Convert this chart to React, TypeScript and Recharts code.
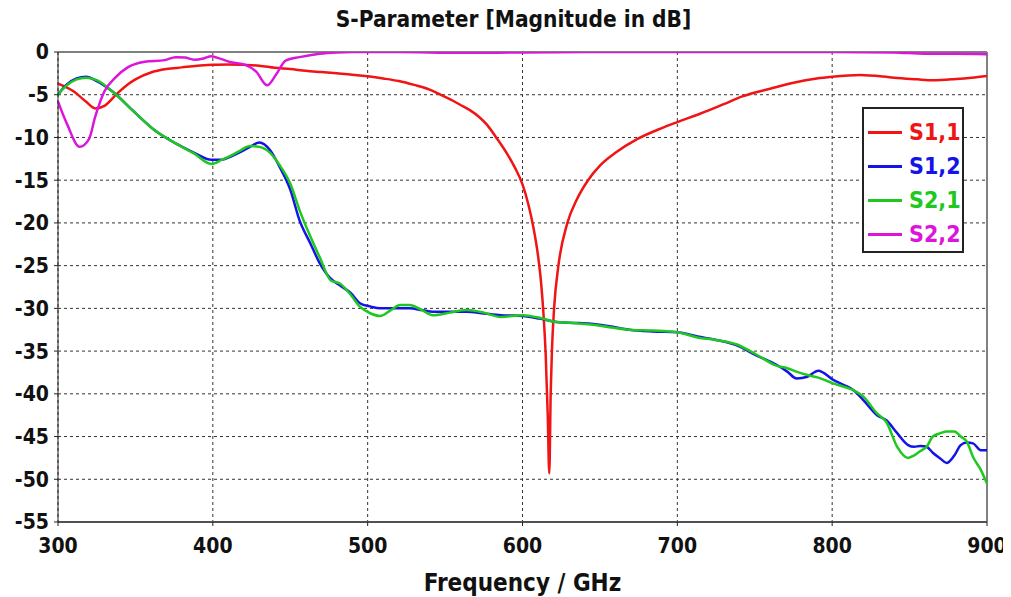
import {
  LineChart, Line, XAxis, YAxis, CartesianGrid, ReferenceLine,
} from 'recharts';

// S1,1 (reflection, port 1)
const s11Freq = [300, 310, 318, 324, 330, 338, 345, 350, 360, 370, 380, 390, 400, 410, 420, 430, 440, 450, 460, 470, 480, 490, 500, 510, 520, 530, 540, 547, 554, 560, 566, 572, 577, 583, 590, 595, 600, 604, 607, 610, 612, 613.5, 615, 616.3, 617.3, 618.2, 619, 620.4, 623.2, 629, 635, 642, 650, 660, 674, 690, 700, 715, 730, 742, 760, 775, 790, 800, 818, 840, 855, 865, 880, 890, 900];
const s11 = [-3.7, -4.6, -5.8, -6.6, -6.3, -4.9, -3.8, -3.2, -2.4, -2.0, -1.8, -1.6, -1.5, -1.45, -1.5, -1.6, -1.85, -2.0, -2.2, -2.35, -2.5, -2.65, -2.85, -3.1, -3.4, -3.85, -4.4, -5.0, -5.6, -6.2, -6.8, -7.6, -8.5, -10, -11.9, -13.5, -15.5, -18.0, -20.5, -23.8, -27, -30.5, -35.5, -42.5, -49.3, -40, -35, -30, -25, -20, -17.3, -15.1, -13.3, -11.8, -10.2, -8.9, -8.2, -7.2, -6.1, -5.2, -4.3, -3.6, -3.1, -2.9, -2.7, -3.0, -3.2, -3.3, -3.15, -3.0, -2.8];

// S2,2 (reflection, port 2)
const s22Freq = [300, 306, 314, 320, 324, 330, 337, 345, 356, 369, 376, 382, 388, 394, 399, 405, 412, 421, 428, 435, 441, 447, 456, 469, 480, 490, 520, 560, 600, 650, 700, 750, 800, 840, 860, 880, 900];
const s22 = [-5.8, -8.5, -11.1, -10.2, -7.6, -4.6, -3.0, -1.8, -1.15, -0.95, -0.6, -0.65, -0.9, -0.75, -0.5, -0.8, -1.2, -1.5, -2.3, -3.9, -2.6, -1.0, -0.6, -0.2, -0.05, 0, 0, -0.1, -0.05, 0, 0, 0, 0, -0.05, -0.2, -0.2, -0.25];

// transmission S1,2 / S2,1
const transFreq = [300, 305, 312, 318, 325, 335, 348, 362, 376, 388, 399, 406, 412, 418, 424, 430, 437, 443, 450, 456, 463, 469, 476, 482, 489, 495, 502, 508, 515, 521, 527, 535, 542, 553, 564, 575, 586, 600, 611, 622, 633, 644, 656, 669, 684, 700, 713, 725, 738, 751, 764, 771, 777, 784, 791, 801, 808, 814, 820, 829, 835, 842, 849, 853, 857, 861, 865, 870, 874, 879, 883, 887, 891, 896, 900];
const s12 = [-5.0, -3.9, -3.1, -2.9, -3.4, -4.6, -6.8, -9.1, -10.7, -11.8, -12.6, -12.6, -12.2, -11.7, -11.1, -10.6, -11.5, -13.4, -16.1, -19.7, -22.4, -24.7, -26.5, -27.3, -28.2, -29.4, -29.8, -30.0, -30.0, -30.0, -30.0, -30.2, -30.4, -30.4, -30.4, -30.6, -30.8, -30.9, -31.2, -31.6, -31.7, -31.8, -32.1, -32.5, -32.7, -32.8, -33.3, -33.7, -34.3, -35.5, -36.6, -37.4, -38.2, -38.0, -37.3, -38.4, -39.0, -39.6, -40.7, -42.5, -43.1, -44.6, -46.0, -46.2, -46.1, -46.2, -46.9, -47.6, -48.1, -47.2, -46.0, -45.7, -45.8, -46.6, -46.6];
const s21 = [-5.0, -4.0, -3.2, -3.0, -3.3, -4.6, -6.8, -9.1, -10.7, -11.9, -13.1, -12.6, -12.1, -11.5, -11.0, -11.1, -11.8, -13.2, -15.4, -18.5, -21.6, -24.0, -26.7, -27.1, -28.4, -29.8, -30.6, -30.9, -30.2, -29.6, -29.6, -30.2, -30.8, -30.5, -30.2, -30.5, -31.0, -30.8, -31.1, -31.6, -31.7, -31.9, -32.2, -32.5, -32.6, -32.8, -33.4, -33.7, -34.2, -35.4, -36.7, -37.0, -37.4, -37.8, -38.1, -38.8, -39.2, -39.6, -40.3, -42.3, -43.3, -46.2, -47.5, -47.2, -46.7, -46.2, -45.0, -44.6, -44.4, -44.4, -45.0, -45.6, -47.4, -48.9, -50.5];

const xTicks = [300, 400, 500, 600, 700, 800, 900];
const yTicks = [0, -5, -10, -15, -20, -25, -30, -35, -40, -45, -50, -55];

const toRows = (freq: number[], vals: number[]) => freq.map((f, i) => ({ f, v: vals[i] }));

const series = [
  { name: 'S1,1', color: '#f01414', data: toRows(s11Freq, s11) },
  { name: 'S1,2', color: '#1414e6', data: toRows(transFreq, s12) },
  { name: 'S2,1', color: '#1ec81e', data: toRows(transFreq, s21) },
  { name: 'S2,2', color: '#dc14dc', data: toRows(s22Freq, s22) },
];

const font = '"DejaVu Sans Condensed", "DejaVu Sans", sans-serif';
const tick = { fontSize: 21, fontWeight: 700, fill: '#111', fontFamily: font };

function LegendBox() {
  return (
    <div style={{
      position: 'absolute', left: 854, top: 99, width: 102, height: 146,
      border: '2px solid #222', background: '#fff', padding: '6px 0', boxSizing: 'border-box',
    }}>
      {series.map((s) => (
        <div key={s.name} style={{ display: 'flex', alignItems: 'center', height: 34, paddingLeft: 4 }}>
          <span style={{ display: 'inline-block', width: 34, height: 3, background: s.color, marginRight: 7 }} />
          <span style={{ color: s.color, fontFamily: font, fontWeight: 700, fontSize: 23 }}>{s.name}</span>
        </div>
      ))}
    </div>
  );
}

export default function App() {
  return (
    <div style={{ position: 'relative', width: 1003, height: 589, background: '#fff' }}>
      <div style={{ position: 'absolute', top: -2, left: 8, width: 995, textAlign: 'center', fontFamily: font, fontWeight: 700, fontSize: 22.5, color: '#111' }}>
        S-Parameter [Magnitude in dB]
      </div>
      <LineChart width={1003} height={589} margin={{ top: 44, right: 24, bottom: 4, left: 0 }}>
        <CartesianGrid stroke="#333" strokeDasharray="3 3" />
        <XAxis
          type="number" dataKey="f" domain={[300, 900]} ticks={xTicks} allowDuplicatedCategory={false}
          tick={tick} tickSize={4} tickMargin={12} stroke="#222" height={71}
          label={{ value: 'Frequency / GHz', position: 'insideBottom', offset: 2, style: { fontSize: 24, fontWeight: 700, fill: '#111', fontFamily: font } }}
        />
        <YAxis
          type="number" domain={[-55, 0]} ticks={yTicks} allowDataOverflow
          tick={tick} tickSize={4} tickMargin={5} stroke="#222" width={50}
        />
        <ReferenceLine y={0} stroke="#808080" strokeWidth={2} />
        <ReferenceLine y={-55} stroke="#808080" strokeWidth={2} />
        <ReferenceLine x={900} stroke="#808080" strokeWidth={2} />
        {series.map((s) => (
          <Line
            key={s.name} data={s.data} dataKey="v" name={s.name} type="monotone"
            stroke={s.color} strokeWidth={2.5} dot={false} isAnimationActive={false}
          />
        ))}
      </LineChart>
      <LegendBox />
    </div>
  );
}
